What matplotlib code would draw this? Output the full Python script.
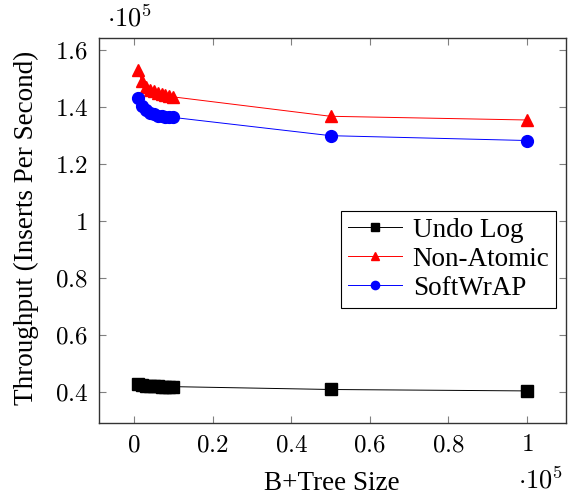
import matplotlib
matplotlib.use("Agg")
import matplotlib.pyplot as plt

plt.rcParams['mathtext.fontset'] = 'cm'
plt.rcParams['font.family'] = ['Liberation Serif', 'DejaVu Serif']

# x in units of 1e5
sizes = [0.01, 0.02, 0.03, 0.04, 0.05, 0.06, 0.07, 0.08, 0.09, 0.10, 0.5, 1.0]
undo_log = [0.428, 0.425, 0.423, 0.422, 0.421, 0.421, 0.420, 0.420, 0.420, 0.420, 0.410, 0.405]
non_atomic = [1.530, 1.490, 1.470, 1.460, 1.455, 1.450, 1.445, 1.442, 1.440, 1.436, 1.368, 1.355]
softwrap = [1.432, 1.405, 1.390, 1.380, 1.375, 1.370, 1.368, 1.366, 1.365, 1.364, 1.300, 1.283]

xticks = [0, 0.2, 0.4, 0.6, 0.8, 1.0]
xticklabels = ['0', '0.2', '0.4', '0.6', '0.8', '1']
yticks = [0.4, 0.6, 0.8, 1.0, 1.2, 1.4, 1.6]
yticklabels = ['0.4', '0.6', '0.8', '1', '1.2', '1.4', '1.6']

fig = plt.figure(figsize=(5.70, 4.97), dpi=100)
ax = fig.add_axes([99/570, 1 - 423/497, (566-99)/570, (423-38)/497])

ax.plot(sizes, undo_log, color='black', marker='s', markersize=8, linewidth=0.7, label='Undo Log')
ax.plot(sizes, non_atomic, color='red', marker='^', markersize=8, linewidth=0.7, label='Non-Atomic')
ax.plot(sizes, softwrap, color='blue', marker='o', markersize=8.5, linewidth=0.7, label='SoftWrAP')

ax.set_xlim(-0.089, 1.099)
ax.set_ylim(0.2925, 1.6425)
ax.set_xticks(xticks)
ax.set_xticklabels(['$' + t + '$' for t in xticklabels])
ax.set_yticks(yticks)
ax.set_yticklabels(['$' + t + '$' for t in yticklabels])
ax.tick_params(direction='in', length=5, width=0.8, color='#808080', labelsize=18,
               top=True, right=True, pad=8)
for s in ax.spines.values():
    s.set_linewidth(1.0)
    s.set_color('#333333')

ax.set_xlabel('B+Tree Size', fontsize=19.5, va='center')
ax.xaxis.set_label_coords((332-99)/467, (423-484)/385)
ax.set_ylabel('Throughput (Inserts Per Second)', fontsize=19.5, va='center')
ax.yaxis.set_label_coords((26-99)/467, (423-228)/385)

fig.text(130/570, 1 - 18/497, r'$\cdot 10^5$', fontsize=19, ha='center', va='center')
fig.text(541/570, 1 - 480/497, r'$\cdot 10^5$', fontsize=19, ha='center', va='center')

leg = ax.legend(loc='center right', bbox_to_anchor=(0.979, 0.425), fontsize=19.5, frameon=True,
                fancybox=False, edgecolor='black', framealpha=1, handlelength=2.0,
                markerscale=0.7, borderpad=0.25, labelspacing=0.15, handletextpad=0.4,
                borderaxespad=0)
leg.get_frame().set_linewidth(0.8)

fig.savefig('out.png', dpi=100)
